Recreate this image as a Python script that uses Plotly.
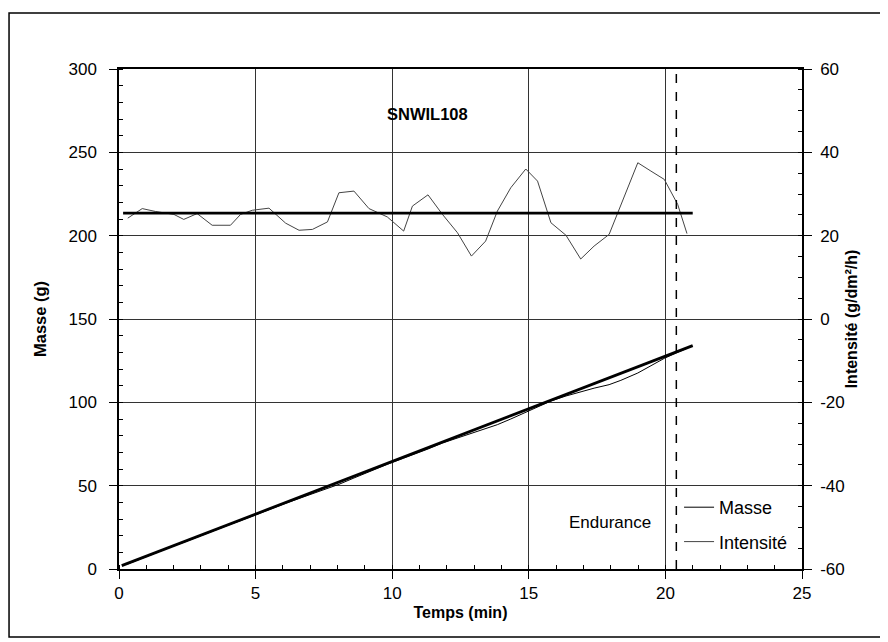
import plotly.graph_objects as go

# ---- data ----
time_min = [0.32, 0.85, 1.34, 2.01, 2.37, 2.86, 3.41, 4.08, 4.45, 4.88,
            5.49, 6.10, 6.59, 7.08, 7.63, 8.05, 8.60, 9.15, 9.82, 10.42,
            10.74, 11.31, 11.84, 12.39, 12.90, 13.42, 13.85, 14.34, 14.89, 15.32,
            15.81, 16.36, 16.90, 17.39, 17.94, 18.37, 18.99, 19.47, 19.96, 20.45,
            20.79]
masse_g = [3.0, 6.5, 9.6, 13.9, 16.0, 19.2, 22.6, 26.8, 29.0, 31.8,
           35.6, 39.4, 42.3, 45.0, 48.1, 50.8, 54.6, 58.4, 62.8, 66.5,
           68.4, 72.0, 75.6, 78.6, 81.0, 83.8, 86.6, 90.0, 94.2, 97.4,
           100.8, 103.8, 106.3, 108.5, 110.6, 113.2, 117.6, 121.8, 126.4, 130.0,
           132.4]
intensite = [24.2, 26.5, 25.8, 25.1, 23.9, 25.3, 22.5, 22.5, 25.1, 26.1,
             26.6, 23.0, 21.3, 21.5, 23.3, 30.3, 30.7, 26.5, 24.5, 21.1,
             27.1, 29.8, 25.1, 20.7, 15.1, 18.7, 25.9, 31.5, 36.0, 33.1,
             23.1, 20.1, 14.4, 17.5, 20.3, 27.5, 37.5, 35.5, 33.5, 27.5,
             20.5]
fit_time = [0.1, 21.0]
fit_masse = [2.0, 134.0]
mean_time = [0.15, 21.0]
mean_intensite = [25.4, 25.4]
endurance_time = 20.4

x_ticks = [0, 5, 10, 15, 20, 25]
y_ticks = [0, 50, 100, 150, 200, 250, 300]
y2_ticks = [-60, -40, -20, 0, 20, 40, 60]
y2_labels = ["-60", "-40", "-20", "0", "20", "40", "60"]

FONT = "Liberation Sans, Arial, sans-serif"

fig = go.Figure()
fig.add_trace(go.Scatter(x=time_min, y=masse_g, mode="lines", name="Masse",
                         legendgroup="m",
                         line=dict(color="black", width=1)))
fig.add_trace(go.Scatter(x=fit_time, y=fit_masse, mode="lines", showlegend=False,
                         line=dict(color="black", width=2.8)))
fig.add_trace(go.Scatter(x=time_min, y=intensite, mode="lines", name="Intensité",
                         legendgroup="i", yaxis="y2",
                         line=dict(color="#444444", width=1)))
fig.add_trace(go.Scatter(x=mean_time, y=mean_intensite, mode="lines", showlegend=False,
                         yaxis="y2", line=dict(color="black", width=2.8)))

# endurance marker
fig.add_shape(type="line", xref="x", yref="paper", x0=endurance_time, x1=endurance_time,
              y0=0, y1=1, line=dict(color="black", width=1.5, dash="dash"))
# outer frame
fig.add_shape(type="rect", xref="paper", yref="paper", x0=-0.161, x1=1.1157,
              y0=-0.136, y1=1.112, line=dict(color="black", width=1.5))

fig.add_annotation(x=11.3, y=273, xref="x", yref="y", text="<b>SNWIL108</b>",
                   showarrow=False, font=dict(size=16.5, color="black", family=FONT))
fig.add_annotation(x=19.55, y=28, xref="x", yref="y", text="Endurance",
                   showarrow=False, xanchor="right", yanchor="middle",
                   font=dict(size=17, color="black", family=FONT))

axis_common = dict(showline=True, linecolor="black", linewidth=1.5,
                   ticks="outside", ticklen=8, tickcolor="black", tickwidth=1.2,
                   tickfont=dict(size=17, color="black", family=FONT),
                   zeroline=False)

fig.update_layout(
    width=880, height=634,
    margin=dict(l=111, r=86, t=61, b=73),
    paper_bgcolor="white", plot_bgcolor="white",
    font=dict(family=FONT, color="black"),
    xaxis=dict(range=[0, 25], tickvals=x_ticks, mirror=True,
               showgrid=True, gridcolor="#333333", gridwidth=1,
               minor=dict(dtick=1, ticks="inside", ticklen=4, tickcolor="black", showgrid=False),
               title=dict(text="<b>Temps (min)</b>", font=dict(size=16, family=FONT), standoff=5),
               **axis_common),
    yaxis=dict(range=[0, 300], tickvals=y_ticks, mirror=False,
               showgrid=True, gridcolor="#333333", gridwidth=1,
               ticklabelstandoff=9,
               minor=dict(dtick=10, ticks="inside", ticklen=4, tickcolor="black", showgrid=False),
               title=dict(text="<b>Masse (g)</b>", font=dict(size=16.5, family=FONT), standoff=18),
               **axis_common),
    yaxis2=dict(range=[-60, 60], tickvals=y2_ticks, ticktext=y2_labels,
                overlaying="y", side="right", showgrid=False,
                ticklabelstandoff=5,
                minor=dict(dtick=5, ticks="inside", ticklen=4, tickcolor="black", showgrid=False),
                title=dict(text="<b>Intensité (g/dm²/h)</b>", font=dict(size=16, family=FONT), standoff=2),
                **axis_common),
    legend=dict(x=0.82, y=0.16, xanchor="left", yanchor="top",
                bgcolor="rgba(0,0,0,0)", borderwidth=0,
                font=dict(size=18, color="black", family=FONT),
                tracegroupgap=8),
    showlegend=True,
)
fig.write_html("out.html")
